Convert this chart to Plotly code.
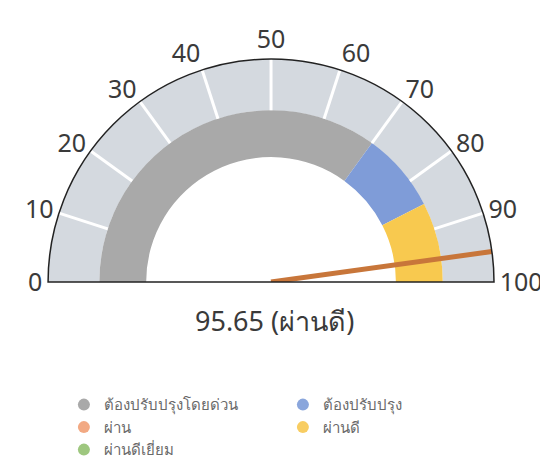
import plotly.graph_objects as go

# ---- data ----
tick_values = [0, 10, 20, 30, 40, 50, 60, 70, 80, 90, 100]
tick_labels = ["0", "10", "20", "30", "40", "50", "60", "70", "80", "90", "100"]
band_names = ["ต้องปรับปรุงโดยด่วน", "ต้องปรับปรุง", "ผ่านดี"]
band_start = [0, 70, 85]
band_end = [70, 85, 100]
band_colors = ["#a9a9a9", "#7f9cd8", "#f8c94f"]
legend_names = ["ต้องปรับปรุงโดยด่วน", "ต้องปรับปรุง", "ผ่าน", "ผ่านดี", "ผ่านดีเยี่ยม"]
legend_colors = ["#a9a9a9", "#8aa6dc", "#f2a983", "#f8cd62", "#9ec77f"]
score = 95.65
score_label = "95.65 (ผ่านดี)"

R_IN, R_MID, R_OUT = 0.56, 0.77, 1.0


def ang(v):
    """gauge value (0..100, left to right) -> polar angle in degrees"""
    return 180 - 1.8 * v


fig = go.Figure()

# light outer band
fig.add_trace(go.Barpolar(
    r=[R_OUT - R_MID], base=[R_MID], theta=[ang(50)], width=[180],
    marker=dict(color="#d4d9df", line=dict(width=0)),
    showlegend=False, hoverinfo="skip"))

# coloured bands
for s, e, c, n in zip(band_start, band_end, band_colors, band_names):
    fig.add_trace(go.Barpolar(
        r=[R_MID - R_IN], base=[R_IN], theta=[ang((s + e) / 2)], width=[(e - s) * 1.8],
        marker=dict(color=c, line=dict(width=0)), name=n,
        showlegend=False, hoverinfo="skip"))

# white tick separators
for v in tick_values[1:-1]:
    fig.add_trace(go.Scatterpolar(
        r=[R_MID, R_OUT], theta=[ang(v), ang(v)], mode="lines",
        line=dict(color="white", width=3), showlegend=False, hoverinfo="skip"))

# needle
fig.add_trace(go.Scatterpolar(
    r=[0.0, R_OUT], theta=[ang(score), ang(score)], mode="lines",
    line=dict(color="#c8763a", width=5), showlegend=False, hoverinfo="skip"))

# legend entries
for n, c in zip(legend_names, legend_colors):
    fig.add_trace(go.Scatterpolar(
        r=[None], theta=[None], mode="markers", name=n,
        marker=dict(color=c, size=15, symbol="circle")))

fig.update_layout(
    width=548, height=465,
    margin=dict(l=0, r=0, t=0, b=0),
    paper_bgcolor="white", plot_bgcolor="white",
    font=dict(family="Noto Sans, sans-serif", color="#3a3a3a"),
    polar=dict(
        domain=dict(x=[0.073, 0.887], y=[0.4108, 0.8903]),
        sector=[0, 180],
        bgcolor="rgba(0,0,0,0)",
        hole=0,
        radialaxis=dict(visible=False, range=[0, 1]),
        angularaxis=dict(
            tickmode="array",
            tickvals=[ang(v) for v in tick_values], ticktext=tick_labels,
            ticks="", showgrid=False, showline=True, linecolor="#222222",
            linewidth=1.5, tickfont=dict(size=25, color="#3a3a3a"),
        ),
    ),
    legend=dict(
        orientation="h", x=0.102, y=0.182, xanchor="left", yanchor="top",
        entrywidth=174, entrywidthmode="pixels",
        font=dict(size=15, color="#6a6a6a"), itemsizing="constant",
        tracegroupgap=0,
    ),
    annotations=[dict(
        text=score_label, x=0.486, y=1 - 333 / 465, xref="paper", yref="paper",
        showarrow=False, font=dict(size=27, color="#3a3a3a"))],
)

fig.write_html("out.html")
